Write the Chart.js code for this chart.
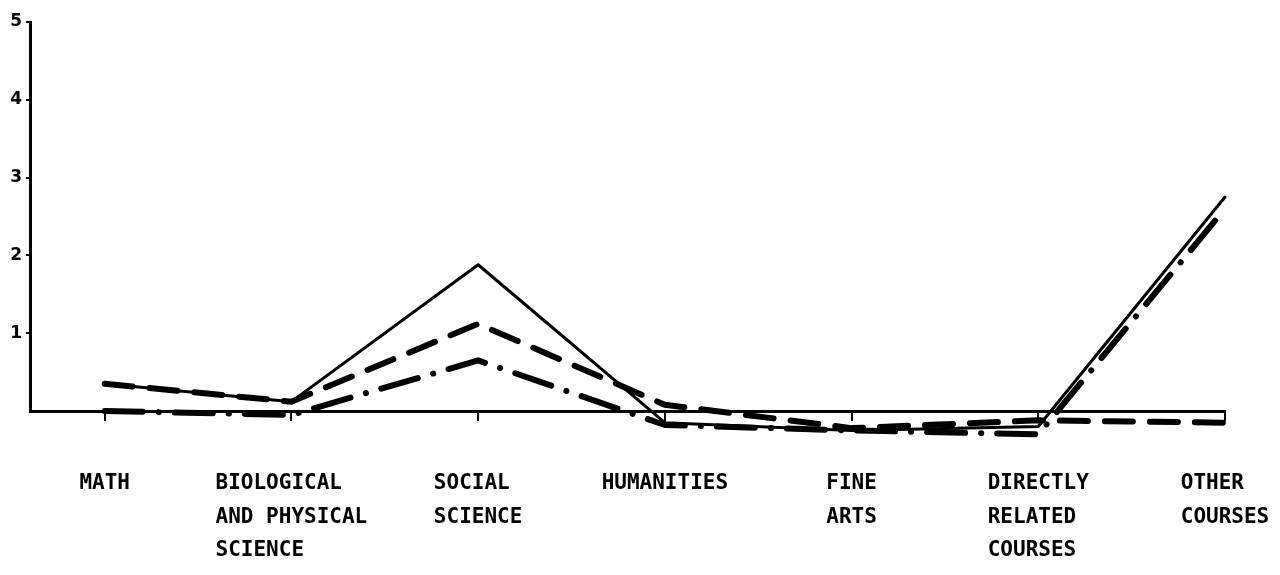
<!DOCTYPE html>
<html>
<head>
<meta charset="utf-8">
<script src="https://cdn.jsdelivr.net/npm/chart.js@4/dist/chart.umd.min.js"></script>
<style>
    html, body { margin: 0; padding: 0; background: #fff; }
    #wrap { width: 1280px; height: 575px; }
</style>
</head>
<body>
<div id="wrap"><canvas id="courseChart"></canvas></div>
<script>
const categories = [
    ['MATH'],
    ['BIOLOGICAL', 'AND PHYSICAL', 'SCIENCE'],
    ['SOCIAL', 'SCIENCE'],
    ['HUMANITIES'],
    ['FINE', 'ARTS'],
    ['DIRECTLY', 'RELATED', 'COURSES'],
    ['OTHER', 'COURSES']
];

// three series (below-zero values sit under the baseline)
const solidValues = [0.35, 0.12, 1.88, -0.15, -0.25, -0.2, 2.75];
const dashedValues = [0.35, 0.12, 1.12, 0.08, -0.22, -0.12, -0.15];
const dashDotValues = [0.0, -0.05, 0.65, -0.18, -0.25, -0.3, 2.6];

const yTicks = [1, 2, 3, 4, 5];

// pad lines so they stay left aligned inside a centred block (mono font)
function padLines(lines) {
    const width = Math.max(...lines.map(l => l.length));
    return lines.map(l => l.padEnd(width, ' '));
}

function toPoints(values) {
    return values.map((v, i) => ({ x: i, y: v }));
}

function makeSeries(label, values, width, dash) {
    return {
        label: label,
        data: toPoints(values),
        borderColor: '#000',
        borderWidth: width,
        borderDash: dash,
        borderCapStyle: 'round',
        borderJoinStyle: 'round',
        pointRadius: 0,
        tension: 0,
        clip: false
    };
}

function createChart() {
    const ctx = document.getElementById('courseChart').getContext('2d');

    new Chart(ctx, {
        type: 'line',
        data: {
            datasets: [
                makeSeries('solid', solidValues, 3, []),
                makeSeries('dashed', dashedValues, 6, [28, 17]),
                makeSeries('dash-dot', dashDotValues, 6, [38, 16, 0.1, 16])
            ]
        },
        options: {
            responsive: true,
            maintainAspectRatio: false,
            animation: false,
            layout: { padding: { top: 22, right: 55, bottom: 0, left: 0 } },
            plugins: {
                legend: { display: false },
                tooltip: { enabled: false }
            },
            scales: {
                x: {
                    type: 'linear',
                    min: -0.4,
                    max: categories.length - 1,
                    afterBuildTicks: scale => {
                        scale.ticks = categories.map((_, i) => ({ value: i }));
                    },
                    afterFit: scale => {
                        scale.height = 164;
                        scale.paddingLeft = 0;
                        scale.paddingRight = 0;
                    },
                    border: { display: true, color: '#000', width: 3 },
                    grid: {
                        drawOnChartArea: false,
                        drawTicks: true,
                        tickLength: 10,
                        color: '#000',
                        lineWidth: 2
                    },
                    ticks: {
                        autoSkip: false,
                        maxRotation: 0,
                        padding: 46,
                        color: '#000',
                        font: { family: 'DejaVu Sans Mono', size: 21, weight: 'bold', lineHeight: 1.6 },
                        callback: value => padLines(categories[value])
                    }
                },
                y: {
                    min: 0,
                    max: 5,
                    afterBuildTicks: scale => {
                        scale.ticks = yTicks.map(v => ({ value: v }));
                    },
                    afterFit: scale => { scale.width = 30; },
                    border: { display: true, color: '#000', width: 3 },
                    grid: {
                        drawOnChartArea: false,
                        drawTicks: true,
                        tickLength: 4,
                        color: '#000',
                        lineWidth: 2
                    },
                    ticks: {
                        padding: 4,
                        color: '#000',
                        font: { family: 'DejaVu Sans', size: 17, weight: 'bold' }
                    }
                }
            }
        }
    });
}

window.onload = createChart;
</script>
</body>
</html>
